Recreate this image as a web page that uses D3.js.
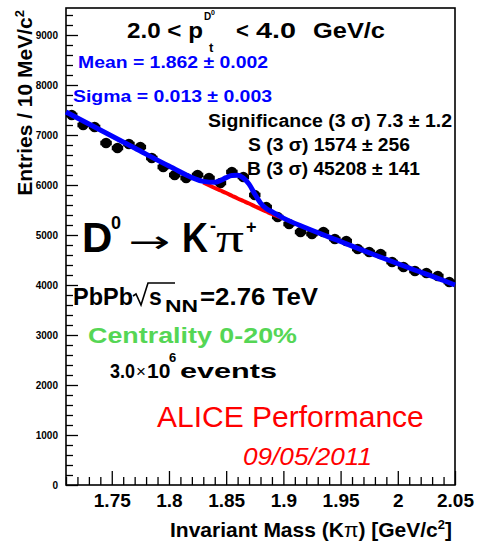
<!DOCTYPE html>
<html>
<head>
<meta charset="utf-8">
<script src="https://cdn.jsdelivr.net/npm/d3@7"></script>
<style>
body { margin: 0; background: #fff; }
svg { display: block; font-family: "Liberation Sans", Arial, Helvetica, sans-serif; }
</style>
</head>
<body>
<div id="chart"></div>
<script>
// D0 -> K pi invariant mass, 10 MeV bins
const binCenters = [1.715, 1.725, 1.735, 1.745, 1.755, 1.765, 1.775, 1.785, 1.795, 1.805,
    1.815, 1.825, 1.835, 1.845, 1.855, 1.865, 1.875, 1.885, 1.895, 1.905,
    1.915, 1.925, 1.935, 1.945, 1.955, 1.965, 1.975, 1.985, 1.995, 2.005,
    2.015, 2.025, 2.035, 2.045];
const entries = [7400, 7200, 7160, 6840, 6740, 6820, 6760, 6540, 6360, 6200,
    6140, 6200, 6140, 6040, 6260, 6160, 5800, 5560, 5360, 5220,
    5060, 5020, 5060, 4920, 4880, 4720, 4660, 4620, 4460, 4360,
    4280, 4240, 4180, 4060];
const binWidth = 0.01;

// fit curves
const fitMass = [1.71, 1.74, 1.77, 1.80, 1.83, 1.84, 1.845, 1.85, 1.855, 1.86, 1.865, 1.87,
    1.875, 1.88, 1.885, 1.89, 1.90, 1.92, 1.95, 1.98, 2.01, 2.04, 2.05];
const fitTotal = [7460, 7100, 6740, 6380, 6073, 6053, 6089, 6148, 6192, 6195, 6138, 6018,
    5820, 5640, 5530, 5466, 5337, 5140, 4870, 4600, 4340, 4090, 4000];
const fitBackground = [7460, 7100, 6740, 6380, 6050, 5940, 5890, 5840, 5785, 5730, 5680, 5630,
    5575, 5520, 5470, 5420, 5330, 5140, 4870, 4600, 4340, 4090, 4000];

const xTicks = [1.75, 1.8, 1.85, 1.9, 1.95, 2, 2.05];
const yTicks = [0, 1000, 2000, 3000, 4000, 5000, 6000, 7000, 8000, 9000];

const width = 478, height = 547;
const margin = {top: 8, left: 66, right: 23, bottom: 62};
const plotW = width - margin.left - margin.right;
const plotH = height - margin.top - margin.bottom;

const svg = d3.select("#chart").append("svg")
    .attr("width", width)
    .attr("height", height);

const g = svg.append("g")
    .attr("transform", "translate(" + margin.left + "," + margin.top + ")");

const x = d3.scaleLinear().domain([1.71, 2.05]).range([0, plotW]);
const y = d3.scaleLinear().domain([0, 9540]).range([plotH, 0]);

// axes, ticks point inwards like ROOT
const yMinor = d3.range(0, 9540, 200).filter(d => d % 1000 !== 0);
const xMinor = d3.range(171, 206, 1).map(d => d / 100).filter(d => !xTicks.some(t => Math.abs(t - d) < 1e-6));

function styleAxis(sel) {
    sel.select(".domain").remove();
    sel.selectAll("line").attr("stroke", "#000").attr("stroke-width", 1.3);
}

g.append("g").call(d3.axisLeft(y).tickValues(yMinor).tickSize(-7).tickFormat("")).call(styleAxis);
g.append("g").call(d3.axisLeft(y).tickValues(yTicks).tickSize(-12).tickPadding(8).tickFormat(d3.format("d")))
    .call(styleAxis)
    .selectAll("text")
    .attr("font-size", 10)
    .attr("font-weight", "bold")
    .attr("font-family", "Liberation Sans, Arial, sans-serif")
    .attr("fill", "#000");

g.append("g").attr("transform", "translate(0," + plotH + ")")
    .call(d3.axisBottom(x).tickValues(xMinor).tickSize(-8).tickFormat("")).call(styleAxis);
g.append("g").attr("transform", "translate(0," + plotH + ")")
    .call(d3.axisBottom(x).tickValues(xTicks).tickSize(-14).tickPadding(9).tickFormat(d => String(d)))
    .call(styleAxis)
    .selectAll("text")
    .attr("font-size", 19)
    .attr("font-weight", "bold")
    .attr("font-family", "Liberation Sans, Arial, sans-serif")
    .attr("fill", "#000");

// frame
g.append("rect")
    .attr("width", plotW)
    .attr("height", plotH)
    .attr("fill", "none")
    .attr("stroke", "#000")
    .attr("stroke-width", 1.6);

// data points with bin-width error bars
const points = binCenters.map((m, i) => ({m: m, v: entries[i]}));
const pts_g = g.append("g");

pts_g.selectAll("line")
    .data(points)
    .enter()
    .append("line")
    .attr("x1", d => x(d.m - binWidth / 2))
    .attr("x2", d => x(d.m + binWidth / 2))
    .attr("y1", d => y(d.v))
    .attr("y2", d => y(d.v))
    .attr("stroke", "#000")
    .attr("stroke-width", 4.5);

pts_g.selectAll("circle")
    .data(points)
    .enter()
    .append("circle")
    .attr("cx", d => x(d.m))
    .attr("cy", d => y(d.v))
    .attr("r", 5.3)
    .attr("fill", "#000");

const fitPts = fitMass.map((m, i) => ({m: m, tot: fitTotal[i], bg: fitBackground[i]}));

g.append("path")
    .datum(fitPts.filter(d => d.m >= 1.83 && d.m <= 1.9))
    .attr("fill", "none")
    .attr("stroke", "#ff0000")
    .attr("stroke-width", 4)
    .attr("d", d3.line().x(d => x(d.m)).y(d => y(d.bg)).curve(d3.curveMonotoneX));

g.append("path")
    .datum(fitPts)
    .attr("fill", "none")
    .attr("stroke", "#0000ff")
    .attr("stroke-width", 5)
    .attr("d", d3.line().x(d => x(d.m)).y(d => y(d.tot)).curve(d3.curveMonotoneX));

// text helper
function label(px, py, str, o) {
    o = o || {};
    const t = svg.append("text")
        .attr("x", px)
        .attr("y", py)
        .attr("font-size", o.size || 16)
        .attr("font-weight", o.weight || "bold")
        .attr("fill", o.color || "#000")
        .text(str);
    if (o.family) t.attr("font-family", o.family);
    if (o.style) t.attr("font-style", o.style);
    if (o.anchor) t.attr("text-anchor", o.anchor);
    if (o.len) t.attr("textLength", o.len).attr("lengthAdjust", "spacingAndGlyphs");
    return t;
}

// axis titles
const yTitle = svg.append("text")
    .attr("transform", "translate(32,10) rotate(-90)")
    .attr("text-anchor", "end")
    .attr("font-size", 21)
    .attr("font-weight", "bold")
    .text("Entries / 10 MeV/c");
yTitle.append("tspan").attr("font-size", 13).attr("dy", -8).text("2");

const xTitle = svg.append("text")
    .attr("x", 452)
    .attr("y", 537)
    .attr("text-anchor", "end")
    .attr("font-size", 21)
    .attr("font-weight", "bold")
    .text("Invariant Mass (K");
xTitle.append("tspan").attr("font-weight", "normal").text("\u03c0");
xTitle.append("tspan").text(") [GeV/c");
xTitle.append("tspan").attr("font-size", 13).attr("dy", -8).text("2");
xTitle.append("tspan").attr("dy", 8).text("]");

// pt range title
label(127, 38, "2.0 < p", {size: 22, len: 76});
label(204, 20, "D", {size: 10});
label(211, 15, "0", {size: 7});
label(209, 52, "t", {size: 13});
label(236, 38, "<", {size: 22});
label(256, 38, "4.0", {size: 22, len: 40});
label(313, 38, "GeV/c", {size: 22, len: 72});

// fit results
label(78, 68, "Mean = 1.862 \u00b1 0.002", {size: 16, color: "#0000ff", len: 190});
label(73, 102, "Sigma = 0.013 \u00b1 0.003", {size: 16, color: "#0000ff", len: 199});
label(208, 127, "Significance (3 \u03c3) 7.3 \u00b1 1.2", {size: 18, len: 244});
label(248, 151, "S (3 \u03c3) 1574 \u00b1 256", {size: 18, len: 162});
label(247, 175, "B (3 \u03c3) 45208 \u00b1 141", {size: 18, len: 173});

// decay channel
label(82, 252, "D", {size: 42});
label(111, 229, "0", {size: 18});
label(128, 252, "\u2192", {size: 30, weight: "normal", family: "DejaVu Sans", len: 42});
label(182, 252, "K", {size: 42, len: 26});
label(210, 232, "-", {size: 18});
label(216, 252, "\u03c0", {size: 40, weight: "normal", family: "Liberation Serif", len: 28});
label(246, 233, "+", {size: 18});

// collision system
label(73, 305, "PbPb", {size: 23, len: 60});
svg.append("path")
    .attr("d", "M133,296 L136,294 L141,305 L148,283 L175,283")
    .attr("fill", "none")
    .attr("stroke", "#000")
    .attr("stroke-width", 1.6);
label(149, 305, "s", {size: 23});
label(165, 312, "NN", {size: 16, len: 33});
label(200, 305, "=2.76 TeV", {size: 23, len: 118});

label(88, 343, "Centrality 0-20%", {size: 22, color: "#55d655", len: 209});

label(110, 378, "3.0", {size: 21, len: 25});
label(136, 377, "\u00d7", {size: 17, weight: "normal"});
label(147, 378, "10", {size: 21});
label(169, 362, "6", {size: 13});
label(180, 378, "events", {size: 21, len: 97});

label(157, 427, "ALICE Performance", {size: 30, weight: "normal", color: "#ff0000"});
label(243, 465, "09/05/2011", {size: 24, weight: "normal", style: "italic", color: "#ff0000", len: 129});
</script>
</body>
</html>
